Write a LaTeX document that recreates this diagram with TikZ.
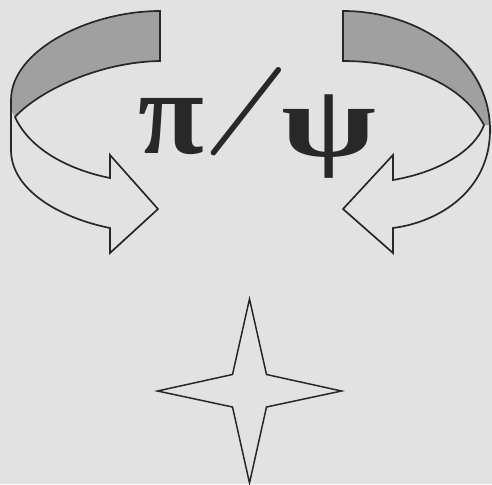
\documentclass[tikz,border=0pt]{standalone}
\usepackage{fontspec}
\setmainfont{Liberation Serif}
\newfontfamily\lmr{Latin Modern Roman}
\definecolor{paper}{RGB}{226,226,226}
\definecolor{band}{RGB}{160,160,160}
\definecolor{ink}{RGB}{40,40,40}
\begin{document}
\begin{tikzpicture}[x=1pt,y=-1pt,
  outline/.style={draw=ink,line width=1.7pt,line join=miter},
  shade/.style={fill=band},
  glyph/.style={inner sep=0pt,text=ink,anchor=base}]
\fill[paper] (0,0) rectangle (492,484);
\useasboundingbox (0,0) rectangle (492,484);
% left arrow shaded band
\fill[shade] (160,11) .. controls (90,11) and (11,50) .. (11,100) -- (11,110) -- (15,117)
  .. controls (40,90) and (100,62) .. (160,61) -- cycle;
\draw[outline] (160,11) .. controls (90,11) and (11,50) .. (11,100) -- (11,150)
  .. controls (11,190) and (60,218) .. (110,228) -- (110,253) -- (158,209) -- (110,155) -- (110,178)
  .. controls (70,170) and (30,150) .. (15,117)
  .. controls (40,90) and (100,62) .. (160,61) -- cycle;
% right arrow shaded band
\fill[shade] (343,11) .. controls (420,11) and (490,60) .. (490,125) -- (484,125)
  .. controls (460,80) and (400,61) .. (343,61) -- cycle;
\draw[outline] (343,11) .. controls (420,11) and (490,60) .. (490,130)
  .. controls (490,190) and (440,222) .. (393,228) -- (393,253) -- (343,209) -- (393,155) -- (393,180)
  .. controls (440,172) and (475,150) .. (484,125)
  .. controls (460,80) and (400,61) .. (343,61) -- cycle;
% text
\node[glyph,font=\fontsize{120}{120}\selectfont\bfseries] (pi) at (171,153) {π};
\node[inner sep=0pt,text=ink,anchor=center,font=\lmr\fontsize{103}{103}\selectfont\bfseries] (sl) at (246.5,111.5) {\rotatebox[origin=c]{-16}{/}};
\node[glyph,font=\fontsize{95}{95}\selectfont\bfseries] (psi) at (329,156) {\scalebox{1.45}[1.08]{ψ}};
% star
\draw[outline,line width=1.5pt] (249.5,299) -- (266.5,374.5) -- (341.5,391) -- (266.5,407) -- (249.5,483)
  -- (232.5,407) -- (157.5,391) -- (232.5,374.5) -- cycle;
\end{tikzpicture}
\end{document}
